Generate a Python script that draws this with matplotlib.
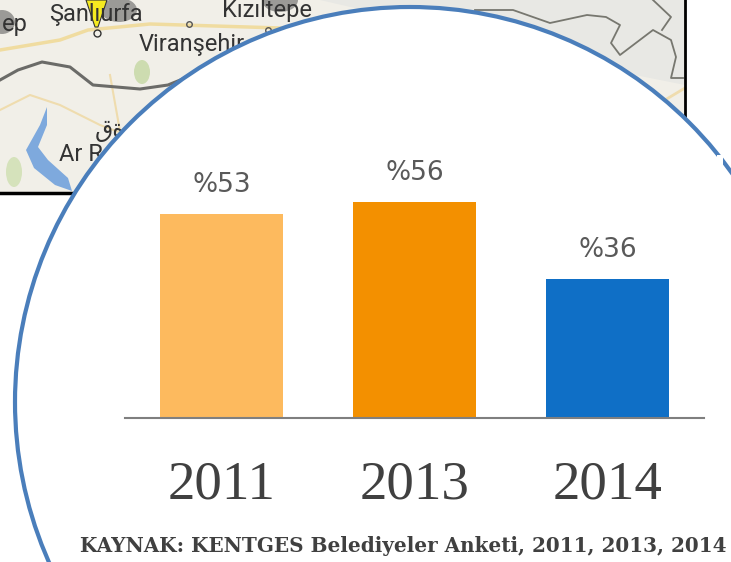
import matplotlib
matplotlib.use('Agg')
import matplotlib.pyplot as plt
from matplotlib.patches import Circle, Rectangle, Polygon, Ellipse

# Values
years = ['2011', '2013', '2014']
shares = [53, 56, 36]
value_labels = ['%53', '%56', '%36']
bar_colors = ['#fdba5e', '#f39000', '#0f6fc6']

W, H = 731, 562
fig = plt.figure(figsize=(W / 100, H / 100), dpi=100, facecolor='white')

# Background layer in pixel coordinates, for the map and the circle
bg = fig.add_axes([0, 0, 1, 1])
bg.set_xlim(0, W)
bg.set_ylim(H, 0)
bg.axis('off')

# Map
bg.add_patch(Rectangle((0, 0), 685, 193, fc='#f1efe8', ec='none', zorder=1))
bg.add_patch(Polygon([(320, 0), (685, 0), (685, 85), (560, 60), (450, 30)], fc='#e8e8e4', ec='none', zorder=1))

# Roads
bg.plot([0, 60, 88, 150, 280], [50, 40, 30, 24, 28], color='#f0dca0', lw=2.5, zorder=2)
bg.plot([0, 30, 60, 100, 140], [110, 95, 105, 125, 140], color='#efdcae', lw=1.5, zorder=2)
bg.plot([110, 118, 125], [75, 120, 160], color='#efdcae', lw=1.5, zorder=2)
bg.plot([665, 685], [100, 88], color='#efdcae', lw=2, zorder=2)

# Euphrates and lake
bg.plot([0, 18, 42, 70, 93, 140, 168, 200],
        [80, 70, 62, 67, 85, 89, 85, 72], color='#6b6b68', lw=2.2, zorder=3)
bg.add_patch(Polygon([(47, 107), (40, 125), (26, 150), (34, 168), (55, 185), (72, 191), (68, 178), (48, 160),
                      (38, 147), (47, 125)], fc='#7ea9dd', ec='none', zorder=3))
bg.add_patch(Ellipse((14, 172), 16, 30, fc='#d5e2bb', ec='none', zorder=3))
bg.add_patch(Ellipse((142, 72), 16, 24, fc='#cddcb0', ec='none', zorder=3))

# Border line on the upper right
bg.plot([475, 513, 550, 587, 606, 620, 611, 620, 653, 671, 676, 671, 683],
        [10, 10, 23, 15, 17, 25, 43, 55, 30, 40, 57, 78, 78], color='#77776f', lw=1.3, zorder=3)
bg.plot([653, 671, 662], [0, 17, 30], color='#77776f', lw=1.3, zorder=3)

# City markers
for mx, my, mw in [(2, 22, 26), (119, 10, 36), (280, 0, 36)]:
    bg.add_patch(Ellipse((mx, my), mw, 24, fc='#555555', ec='none', alpha=0.55, zorder=3))
bg.add_patch(Polygon([(86, 0), (107, 0), (98, 27), (95, 27)], fc='#f5ea20', ec='#333333', lw=0.8, zorder=4))
bg.plot([97], [33], marker='o', ms=5, mfc='none', mec='#333333', zorder=4)
bg.plot([189], [24], marker='o', ms=4, mfc='none', mec='#555555', zorder=4)
bg.plot([268], [30], marker='o', ms=4, mfc='none', mec='#555555', zorder=4)

# Map labels
for tx, ty, s in [(2, 25, 'ep'), (49, 14, 'Şanlıurfa'), (222, 11, 'Kızıltepe'),
                  (139, 45, 'Viranşehir'), (59, 155, 'Ar Raqqah'), (95, 130, 'قة')]:
    bg.text(tx, ty, s, fontsize=17, color='#333333', family=['Roboto', 'DejaVu Sans'],
            va='center', ha='left', zorder=4)

# Map frame
bg.plot([685, 685], [0, 125], color='black', lw=2, zorder=5)
bg.plot([0, 80], [193, 193], color='black', lw=2.5, zorder=5)

# White circle on top of the map
bg.add_patch(Circle((410, 402), 395, fc='white', ec='#4a7ebb', lw=3, zorder=6))
bg.add_patch(Rectangle((717, 155), 6, 10, fc='white', ec='none', zorder=7))

# Bar chart
ax = fig.add_axes([125 / W, (H - 418) / H, 579 / W, 231 / H], zorder=10)
ax.patch.set_alpha(0)
ax.bar(range(3), shares, width=0.64, color=bar_colors)
ax.set_xlim(-0.5, 2.5)
ax.set_ylim(0, 60)
ax.set_yticks([])
ax.set_xticks(range(3))
ax.set_xticklabels(years, family='Liberation Serif', fontsize=39.5, color='#404040')
ax.tick_params(axis='x', length=0, pad=30)
for name in ['top', 'left', 'right']:
    ax.spines[name].set_visible(False)
ax.spines['bottom'].set_color('#7f7f7f')
ax.spines['bottom'].set_linewidth(1.5)

for i, v in enumerate(shares):
    ax.text(i, v + 4.2, value_labels[i], ha='center', va='bottom', fontsize=19, color='#595959')

fig.text(403 / W, 1 - 546 / H, 'KAYNAK: KENTGES Belediyeler Anketi, 2011, 2013, 2014',
         family='DejaVu Serif', fontweight='bold', fontsize=14.4, color='#404040',
         ha='center', va='center', zorder=11)

fig.savefig('out.png', dpi=100)
